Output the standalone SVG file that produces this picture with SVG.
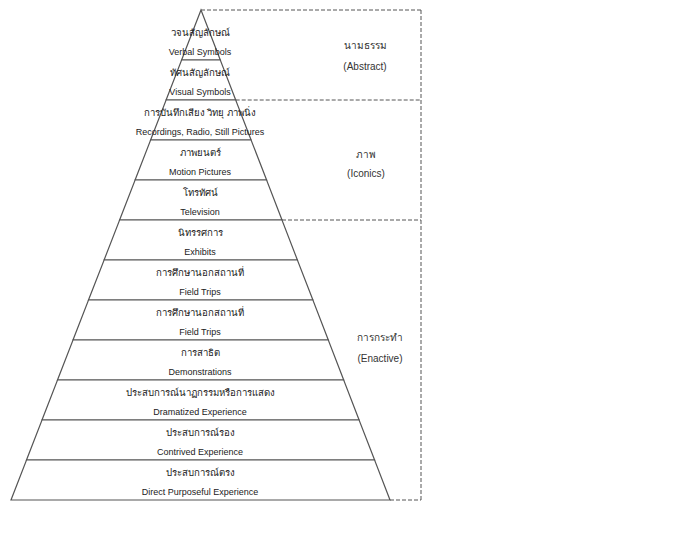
<svg xmlns="http://www.w3.org/2000/svg" width="700" height="536" viewBox="0 0 700 536">
<style>
.row{fill:#fff;stroke:#555;stroke-width:1.2}
.th{font-family:"Noto Sans","DejaVu Sans",sans-serif;font-size:9.6px;fill:#222;text-anchor:middle}
.en{font-family:"Liberation Sans",Arial,sans-serif;font-size:9px;fill:#222;text-anchor:middle}
.lth{font-family:"Noto Sans","DejaVu Sans",sans-serif;font-size:10px;fill:#333;text-anchor:middle}
.len{font-family:"Liberation Sans",Arial,sans-serif;font-size:10px;fill:#333;text-anchor:middle}
.dash{fill:none;stroke:#555;stroke-width:1;stroke-dasharray:4,2}
</style>
<rect width="700" height="536" fill="#fff"/>
<g id="connectors">
<path class="dash" d="M201,10 H421 M235.7,100 H421 M282,220 H421 M390,500 H421"/>
<path class="dash" d="M421,10 V500" stroke-dasharray="2,1.5"/>
</g>
<g id="verbal-symbols"><polygon class="row" points="201,10 220.3,60 181.6,60"/><text class="th" x="200" y="36">วจนสัญลักษณ์</text><text class="en" x="200" y="55">Verbal Symbols</text></g>
<g id="visual-symbols"><polygon class="row" points="181.6,60 220.3,60 235.7,100 166.1,100"/><text class="th" x="200" y="76">ทัศนสัญลักษณ์</text><text class="en" x="200" y="95">Visual Symbols</text></g>
<g id="recordings"><polygon class="row" points="166.1,100 235.7,100 251.1,140 150.6,140"/><text class="th" x="200" y="116">การบันทึกเสียง วิทยุ ภาพนิ่ง</text><text class="en" x="200" y="135">Recordings, Radio, Still Pictures</text></g>
<g id="motion-pictures"><polygon class="row" points="150.6,140 251.1,140 266.6,180 135.1,180"/><text class="th" x="200" y="156">ภาพยนตร์</text><text class="en" x="200" y="175">Motion Pictures</text></g>
<g id="television"><polygon class="row" points="135.1,180 266.6,180 282,220 119.6,220"/><text class="th" x="200" y="196">โทรทัศน์</text><text class="en" x="200" y="215">Television</text></g>
<g id="exhibits"><polygon class="row" points="119.6,220 282,220 297.4,260 104.1,260"/><text class="th" x="200" y="236">นิทรรศการ</text><text class="en" x="200" y="255">Exhibits</text></g>
<g id="field-trips-1"><polygon class="row" points="104.1,260 297.4,260 312.9,300 88.5,300"/><text class="th" x="200" y="276">การศึกษานอกสถานที่</text><text class="en" x="200" y="295">Field Trips</text></g>
<g id="field-trips-2"><polygon class="row" points="88.5,300 312.9,300 328.3,340 73,340"/><text class="th" x="200" y="316">การศึกษานอกสถานที่</text><text class="en" x="200" y="335">Field Trips</text></g>
<g id="demonstrations"><polygon class="row" points="73,340 328.3,340 343.7,380 57.5,380"/><text class="th" x="200" y="356">การสาธิต</text><text class="en" x="200" y="375">Demonstrations</text></g>
<g id="dramatized"><polygon class="row" points="57.5,380 343.7,380 359.1,420 42,420"/><text class="th" x="200" y="396">ประสบการณ์นาฏกรรมหรือการแสดง</text><text class="en" x="200" y="415">Dramatized Experience</text></g>
<g id="contrived"><polygon class="row" points="42,420 359.1,420 374.6,460 26.5,460"/><text class="th" x="200" y="436">ประสบการณ์รอง</text><text class="en" x="200" y="455">Contrived Experience</text></g>
<g id="direct"><polygon class="row" points="26.5,460 374.6,460 390,500 11,500"/><text class="th" x="200" y="476">ประสบการณ์ตรง</text><text class="en" x="200" y="495">Direct Purposeful Experience</text></g>
<g id="abstract"><text class="lth" x="365" y="49">นามธรรม</text><text class="len" x="365" y="70">(Abstract)</text></g>
<g id="iconics"><text class="lth" x="366" y="158">ภาพ</text><text class="len" x="366" y="177">(Iconics)</text></g>
<g id="enactive"><text class="lth" x="380" y="341">การกระทำ</text><text class="len" x="380" y="362">(Enactive)</text></g>
</svg>
